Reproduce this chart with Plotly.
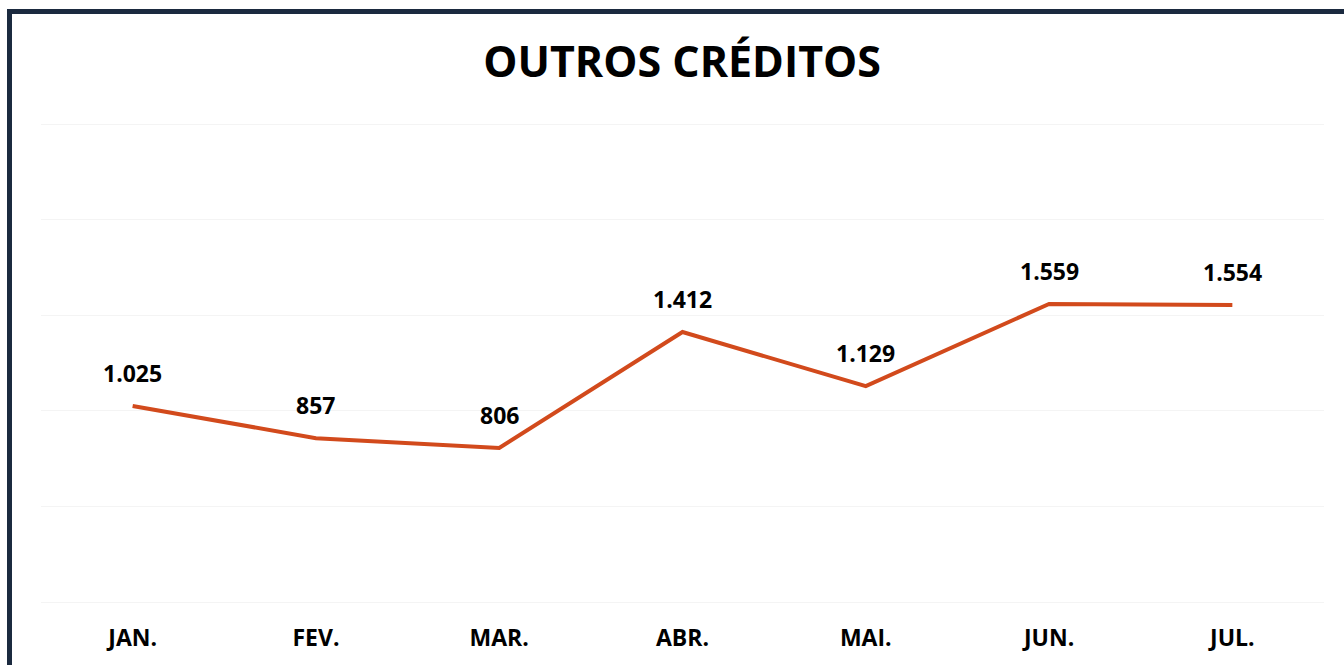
import plotly.graph_objects as go

months = ["JAN.", "FEV.", "MAR.", "ABR.", "MAI.", "JUN.", "JUL."]
values = [1025, 857, 806, 1412, 1129, 1559, 1554]
grid_vals = [0, 500, 1000, 1500, 2000, 2500]
title_text = "OUTROS CRÉDITOS"

W, H = 1344, 665
ML, MR, MT, MB = 41, 20, 119, 58
PW = W - ML - MR
PH = H - MT - MB
pad_units = 5 * 2500 / 478

def px_x(p):
    return (p - ML) / PW

def px_y(p):
    return (H - MB - p) / PH

fig = go.Figure()
fig.add_trace(go.Scatter(
    x=months, y=values, mode="lines",
    line=dict(color="#D24A1C", width=4),
    hoverinfo="skip", showlegend=False,
))

for m, v in zip(months, values):
    fig.add_annotation(
        x=m, y=v, text=f"{v:,}".replace(",", "."),
        showarrow=False, yshift=33,
        font=dict(family="Open Sans", size=23, color="#000000", weight="bold"),
    )

fig.add_shape(
    type="rect", xref="paper", yref="paper",
    x0=px_x(9.5), x1=px_x(1400), y0=px_y(11.5), y1=px_y(720),
    line=dict(color="#1B2A3F", width=5), fillcolor="rgba(0,0,0,0)",
    layer="above",
)

fig.update_layout(
    width=W, height=H,
    margin=dict(l=ML, r=MR, t=MT, b=MB),
    paper_bgcolor="white", plot_bgcolor="white",
    title=dict(
        text=title_text, x=0.5075, xanchor="center", y=1 - 62 / H, yanchor="middle",
        font=dict(family="Open Sans", size=43, color="#000000", weight="bold"),
    ),
    xaxis=dict(
        range=[-0.5, len(months) - 0.5],
        showgrid=False, zeroline=False, showline=False,
        tickfont=dict(family="Open Sans", size=23, color="#000000", weight="bold"),
        ticks="", ticklabelstandoff=15,
    ),
    yaxis=dict(
        range=[-pad_units, 2500 + pad_units], tickvals=grid_vals,
        showgrid=True, gridcolor="#F4F4F4", gridwidth=1,
        zeroline=False, showline=False, showticklabels=False, ticks="",
    ),
)

fig.write_html(
    "out.html",
    config={"displayModeBar": False},
    post_script="document.body.style.margin='0';document.body.style.overflow='hidden';",
)
